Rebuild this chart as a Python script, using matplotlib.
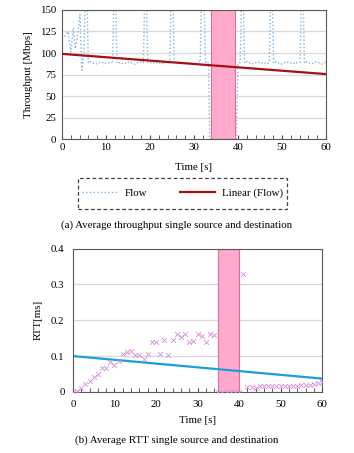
import matplotlib
matplotlib.use("Agg")
import matplotlib.pyplot as plt
from matplotlib.lines import Line2D
from matplotlib.patches import Rectangle

plt.rcParams['font.family'] = ['Liberation Serif', 'DejaVu Serif']
plt.rcParams['font.size'] = 7.8

# =========================
# data (a) throughput
# =========================
flow_t = [0, 0.7, 1.4, 2.0, 2.6, 3.0, 3.4, 4.1, 4.5, 5.0, 5.3, 5.7, 6.0,
          6.5, 7, 7.5, 8, 8.5, 9, 9.5, 10, 10.5, 11, 11.5, 11.8, 12.2, 12.5,
          13, 13.5, 14, 14.5, 15, 15.5, 16, 16.5, 17, 17.5, 18, 18.5, 18.8, 19.2, 19.5,
          20, 20.5, 21, 21.5, 22, 22.5, 23, 23.5, 24, 24.5, 24.8, 25.2, 25.5,
          26, 26.5, 27, 27.5, 28, 28.5, 29, 29.5, 30, 30.5, 31, 31.4, 31.7, 32.3, 32.6,
          33, 33.3, 33.6, 39.6, 40.0, 40.5, 40.8, 41.2, 41.5,
          42, 42.5, 43, 43.5, 44, 44.5, 45, 45.5, 46, 46.5, 47.1, 47.4, 47.8, 48.1,
          48.5, 49, 49.5, 50, 50.5, 51, 51.5, 52, 52.5, 53, 53.5, 54.1, 54.4, 54.8, 55.1,
          55.5, 56, 56.5, 57, 57.5, 58, 58.5, 59, 59.5, 60]
flow_v = [116, 120, 125, 101, 129, 105, 115, 145, 80, 100, 165, 165, 88,
          90, 88, 89, 87, 89, 88, 90, 88, 89, 88, 90, 165, 165, 88,
          89, 87, 89, 88, 90, 88, 89, 87, 89, 88, 90, 89, 165, 165, 89,
          88, 90, 88, 89, 87, 89, 88, 90, 88, 89, 165, 165, 89,
          90, 88, 89, 88, 90, 88, 89, 87, 89, 88, 90, 89, 165, 165, 89,
          90, 88, 0, 0, 88, 89, 165, 165, 88,
          90, 88, 89, 87, 89, 88, 90, 88, 89, 87, 89, 165, 165, 88,
          90, 88, 89, 87, 89, 88, 90, 88, 89, 87, 89, 89, 165, 165, 88,
          90, 88, 89, 88, 90, 88, 89, 87, 89, 89]
flow_trend_t = [0, 60]
flow_trend_v = [99, 75.5]
flow_span = (33.8, 39.3)

# =========================
# data (b) RTT
# =========================
rtt_t = list(range(0, 61))
rtt_v = [0.0, 0.002, 0.012, 0.021, 0.03, 0.042, 0.05, 0.066, 0.067, 0.084,
         0.076, 0.086, 0.106, 0.11, 0.114, 0.104, 0.102, 0.093, 0.106, 0.138,
         0.138, 0.106, 0.145, 0.102, 0.144, 0.161, 0.153, 0.162, 0.138, 0.143,
         0.161, 0.156, 0.14, 0.163, 0.159, 0.0, 0.0, 0.0, 0.0, 0.0,
         0.0, 0.329, 0.013, 0.013, 0.01, 0.015, 0.015, 0.016, 0.016, 0.016,
         0.016, 0.016, 0.017, 0.017, 0.017, 0.018, 0.018, 0.019, 0.022, 0.025,
         0.028]
rtt_trend_t = [0, 60]
rtt_trend_v = [0.1, 0.037]
rtt_span = (35, 40)

fig = plt.figure(figsize=(3.54, 4.53), dpi=100)

# =========================
# (a) throughput
# =========================
ax1 = fig.add_axes([0.175, 0.693, 0.746, 0.285])
ax1.axvspan(*flow_span, facecolor='#FFAACC', edgecolor='#E0709A', lw=0.8, zorder=1)
ax1.plot(flow_t, flow_v, ls=':', color='#7FB6E0', lw=1.0, zorder=2)
ax1.plot(flow_trend_t, flow_trend_v, color='#A50F15', lw=1.6, zorder=3)
ax1.set_xlim(0, 60)
ax1.set_ylim(0, 150)
ax1.set_xticks(range(0, 61, 10))
ax1.set_xticks(range(0, 61, 2), minor=True)
ax1.set_yticks(range(0, 151, 25))
ax1.yaxis.grid(True, color='#D9D9D9', lw=0.9)
ax1.set_axisbelow(True)
ax1.tick_params(axis='x', which='both', direction='in', length=3, color='#404040')
ax1.tick_params(axis='y', length=0, pad=4)
ax1.tick_params(axis='x', pad=3)
for s in ax1.spines.values():
    s.set_color('#595959')
ax1.set_xlabel("Time [s]", labelpad=8)
ax1.set_ylabel("Throughput [Mbps]", labelpad=5)

# legend in dashed box
fig.patches.append(Rectangle((0.220, 0.539), 0.591, 0.068, transform=fig.transFigure,
                             fill=False, ls=(0, (3, 2)), lw=0.9, edgecolor='#404040'))
handles = [Line2D([], [], ls=':', color='#7FB6E0', lw=1.0),
           Line2D([], [], color='#A50F15', lw=1.6)]
fig.legend(handles, ["Flow", "Linear (Flow)"], loc='center', bbox_to_anchor=(0.516, 0.573),
           ncol=2, frameon=False, handlelength=3.3, columnspacing=3.0, handletextpad=0.6)

fig.text(0.5, 0.503, "(a) Average throughput single source and destination", ha='center', va='center')

# =========================
# (b) RTT
# =========================
ax2 = fig.add_axes([0.206, 0.135, 0.704, 0.316])
ax2.axvspan(*rtt_span, facecolor='#FFAACC', edgecolor='#E0709A', lw=0.8, zorder=1)
ax2.scatter(rtt_t, rtt_v, marker='x', s=12, lw=0.6, color='#D98CD9', zorder=3)
ax2.plot(rtt_trend_t, rtt_trend_v, color='#1A9FDB', lw=1.6, zorder=2)
ax2.set_xlim(0, 60)
ax2.set_ylim(0, 0.4)
ax2.set_xticks(range(0, 61, 10))
ax2.set_xticks(range(0, 61, 2), minor=True)
ax2.set_yticks([0, 0.1, 0.2, 0.3, 0.4])
ax2.set_yticklabels(["0", "0.1", "0.2", "0.3", "0.4"])
ax2.yaxis.grid(True, color='#D9D9D9', lw=0.9)
ax2.set_axisbelow(True)
ax2.tick_params(axis='x', which='both', direction='in', length=3, color='#404040')
ax2.tick_params(axis='y', length=0, pad=6)
ax2.tick_params(axis='x', pad=6)
for s in ax2.spines.values():
    s.set_color('#595959')
ax2.set_xlabel("Time [s]", labelpad=5)
ax2.set_ylabel("RTT[ms]", labelpad=6)

fig.text(0.5, 0.029, "(b) Average RTT single source and destination", ha='center', va='center')

fig.savefig("out.png", dpi=100)
